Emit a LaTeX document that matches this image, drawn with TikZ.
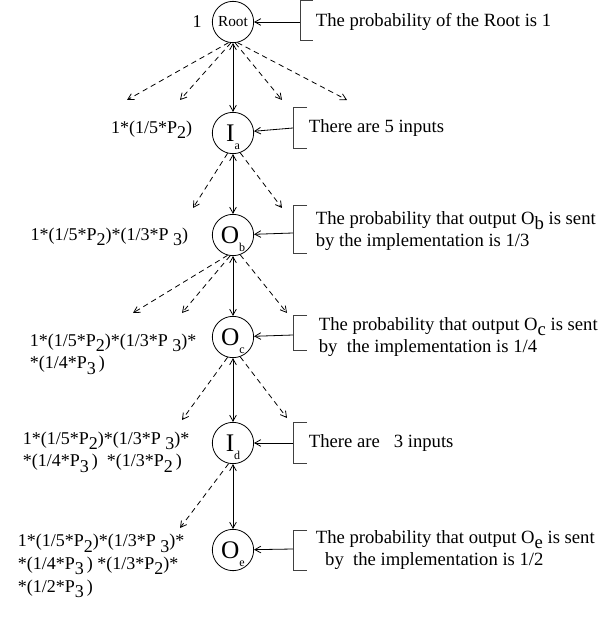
\documentclass[tikz,border=0pt]{standalone}
\usepackage{fontspec}
\setmainfont{Liberation Serif}
\usetikzlibrary{arrows.meta}
\newcommand{\lowr}[1]{\raisebox{-4pt}{#1}}
\newcommand{\stname}[2]{{\fontsize{19}{19}\selectfont #1}\smash{\raisebox{-6pt}{\fontsize{9}{9}\selectfont #2}}}

\begin{document}
\begin{tikzpicture}[>={Straight Barb[length=4.5pt,width=5pt]},x=0.75pt,y=-0.75pt,semithick,
    st/.style={circle,draw,inner sep=0pt,minimum size=31pt},
    note/.style={anchor=west,align=left,font=\fontsize{14}{16.5}\selectfont},
    prob/.style={align=left,font=\fontsize{13.5}{17}\selectfont},
    brn/.style={->,dash pattern=on 4pt off 3pt},
    bkt/.style={draw=black!75}]
    \useasboundingbox (0,0) rectangle (603,623);

    % states of the tree
    \node[st] (root) at (233,22) {\fontsize{11.5}{11.5}\selectfont Root};
    \node[st] (ia) at (233,133) {\stname{I}{a}};
    \node[st] (ob) at (233,235) {\stname{O}{b}};
    \node[st] (oc) at (233,337) {\stname{O}{c}};
    \node[st] (id) at (233,443) {\stname{I}{d}};
    \node[st] (oe) at (233,550) {\stname{O}{e}};

    \draw[<->] (root)--(ia);
    \draw[<->] (ia)--(ob);
    \draw[<->] (ob)--(oc);
    \draw[<->] (oc)--(id);
    \draw[<->] (id)--(oe);

    % other branches
    \coordinate (r1) at (127,100);
    \coordinate (r2) at (180,100);
    \coordinate (r3) at (282,100);
    \coordinate (r4) at (347,100);
    \coordinate (a1) at (193,208);
    \coordinate (a2) at (282,208);
    \coordinate (b1) at (133,313);
    \coordinate (b2) at (182,313);
    \coordinate (b3) at (287,313);
    \coordinate (c1) at (182,420);
    \coordinate (c2) at (287,418);
    \coordinate (d1) at (180,528);
    \draw[brn] (root.258)--(r1);
    \draw[brn] (root.264)--(r2);
    \draw[brn] (root.276)--(r3);
    \draw[brn] (root.282)--(r4);
    \draw[brn] (ia.255)--(a1);
    \draw[brn] (ia.290)--(a2);
    \draw[brn] (ob.255)--(b1);
    \draw[brn] (ob.262)--(b2);
    \draw[brn] (ob.290)--(b3);
    \draw[brn] (oc.255)--(c1);
    \draw[brn] (oc.290)--(c2);
    \draw[brn] (id.258)--(d1);

    % probabilities
    \node[prob] (p0) at (197,22) {1};
    \node[prob,anchor=east] (p1) at (197,130) {1*(1/5*P\lowr{2})};
    \node[prob,anchor=east] (p2) at (193,237) {1*(1/5*P\lowr{2})*(1/3*P \lowr{3})};
    \node[prob,anchor=west] (p3) at (25,354) {1*(1/5*P\lowr{2})*(1/3*P \lowr{3})*\\*(1/4*P\lowr{3}\,)};
    \node[prob,anchor=west] (p4) at (18,452) {1*(1/5*P\lowr{2})*(1/3*P \lowr{3})*\\*(1/4*P\lowr{3}\,)\ \ *(1/3*P\lowr{2}\,)};
    \node[prob,anchor=west] (p5) at (13,566) {1*(1/5*P\lowr{2})*(1/3*P \lowr{3})*\\*(1/4*P\lowr{3}\,)\ *(1/3*P\lowr{2})*\\*(1/2*P\lowr{3}\,)};

    % notes
    \draw[bkt] (313,0)--(300,0)--(300,40)--(313,40);
    \coordinate (k0) at (300,22);
    \draw[->] (k0)--(root);
    \node[note] (n0) at (311,22) {The probability of the Root is 1};

    \draw[bkt] (307,107)--(293,107)--(293,148)--(307,148);
    \coordinate (k1) at (293,128);
    \draw[->] (k1)--(ia);
    \node[note] (n1) at (304,128) {There are 5 inputs};

    \draw[bkt] (307,205)--(293,205)--(293,253)--(307,253);
    \coordinate (k2) at (293,233);
    \draw[->] (k2)--(ob);
    \node[note] (n2) at (311,231) {The probability that output O\lowr{b} is sent\\by the implementation is 1/3};

    \draw[bkt] (307,315)--(293,315)--(293,350)--(307,350);
    \coordinate (k3) at (293,335);
    \draw[->] (k3)--(oc);
    \node[note] (n3) at (314,337) {The probability that output O\lowr{c} is sent\\by\ \ the implementation is 1/4};

    \draw[bkt] (307,422)--(293,422)--(293,463)--(307,463);
    \coordinate (k4) at (293,443);
    \draw[->] (k4)--(id);
    \node[note] (n4) at (304,443) {There are\ \ \ 3 inputs};

    \draw[bkt] (307,530)--(293,530)--(293,570)--(307,570);
    \coordinate (k5) at (293,549);
    \draw[->] (k5)--(oe);
    \node[note] (n5) at (311,550) {The probability that output O\lowr{e} is sent\\\hspace*{7pt}by\ \ the implementation is 1/2};
\end{tikzpicture}
\end{document}
